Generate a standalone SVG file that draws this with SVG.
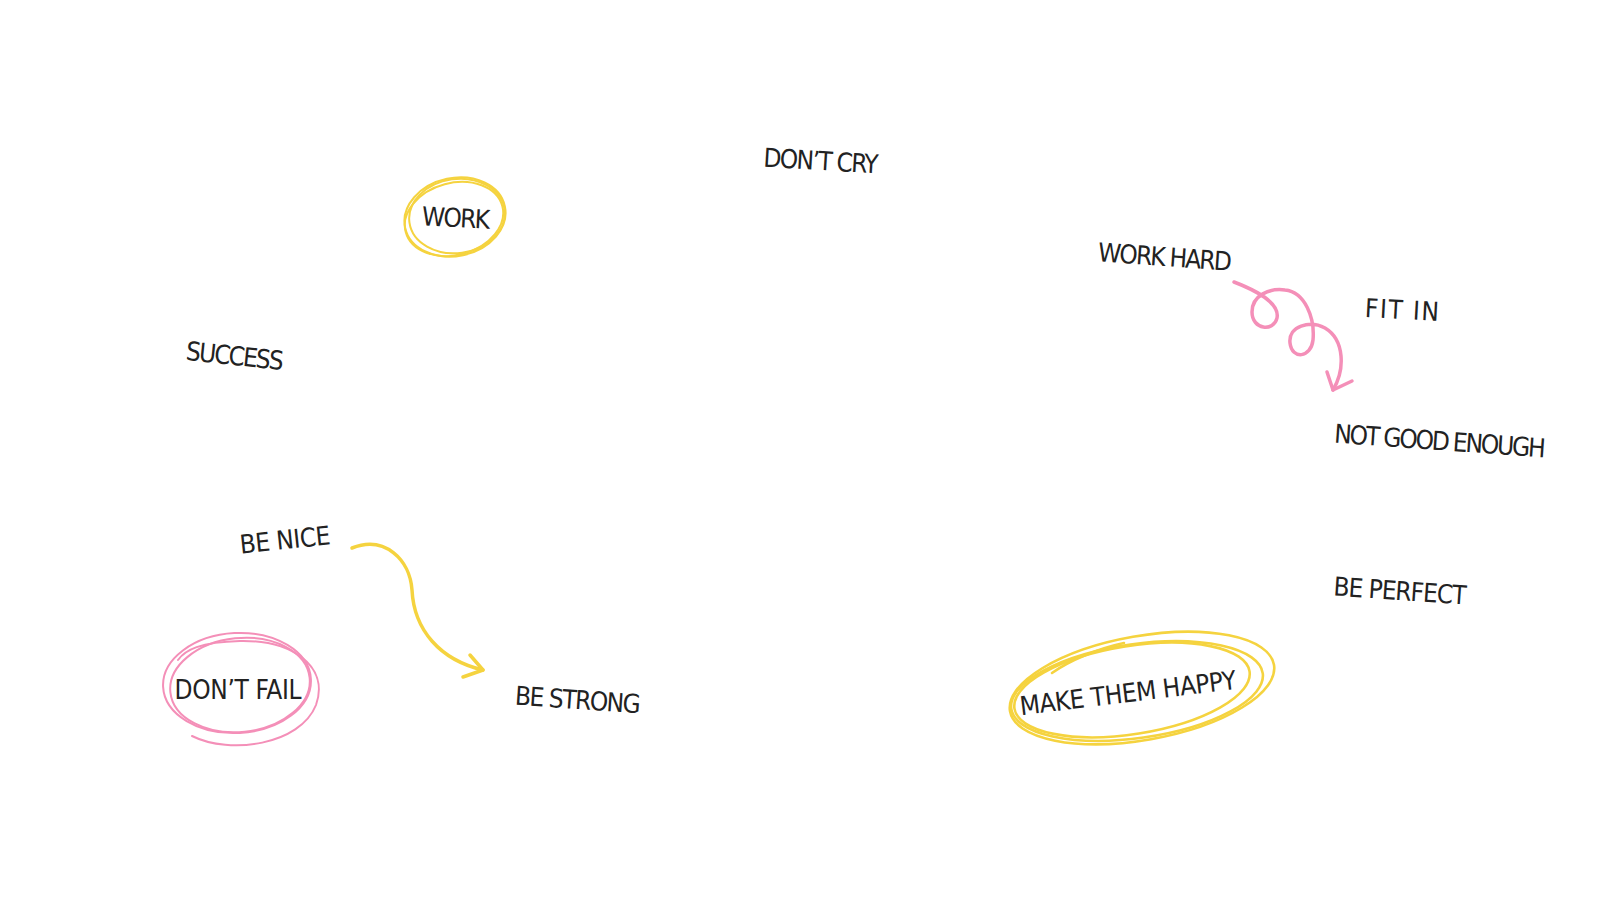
<svg xmlns="http://www.w3.org/2000/svg" width="1600" height="900" viewBox="0 0 1600 900">
<defs>
<style>
.t{font-family:"Liberation Sans Narrow","DejaVu Sans Condensed","Liberation Sans",sans-serif;font-size:26px;fill:#222;text-anchor:middle}
.y{fill:none;stroke:#F5D33F;stroke-width:2;stroke-linecap:round}
.yb{fill:none;stroke:#F5D33F;stroke-width:3.5;stroke-linecap:round;stroke-linejoin:round}
.ym{fill:none;stroke:#F5D33F;stroke-width:2.6;stroke-linecap:round}
.p{fill:none;stroke:#F48FB8;stroke-width:2;stroke-linecap:round}
.pb{fill:none;stroke:#F48FB8;stroke-width:3.5;stroke-linecap:round;stroke-linejoin:round}
</style>
</defs>
<rect width="1600" height="900" fill="#fff"/>
<g id="connectors">
<path class="yb" d="M352,548 C385,535 410,560 412,590 C414,630 440,660 483,670"/>
<path class="yb" d="M470,655 L483,670 L463,677"/>
<path class="pb" d="M1234,282 C1255,290 1280,303 1277,318 C1274,332 1252,330 1252,312 C1252,295 1270,288 1285,290 C1305,292 1315,318 1313,340 C1311,358 1292,360 1290,343 C1288,326 1310,320 1325,328 C1345,340 1345,370 1333,390"/>
<path class="pb" d="M1327,372 L1333,390 L1352,381"/>
</g>
<g id="n-dontcry"><text class="t" x="821" y="170" textLength="115" transform="rotate(3.5 821 161)">DON’T CRY</text></g>
<g id="n-work">
<ellipse class="y" cx="455" cy="217" rx="51" ry="39" transform="rotate(-12 455 217)"/>
<ellipse class="y" cx="457" cy="216" rx="48" ry="37" transform="rotate(-8 457 216)"/>
<ellipse class="y" cx="454" cy="219" rx="50" ry="36" transform="rotate(-15 454 219)"/>
<text class="t" x="456" y="227" textLength="68" transform="rotate(3 456 218)">WORK</text></g>
<g id="n-workhard"><text class="t" x="1165" y="266" textLength="134" transform="rotate(4 1165 257)">WORK HARD</text></g>
<g id="n-fitin"><text class="t" x="1402" y="319" textLength="74" transform="rotate(3 1402 310)">FIT IN</text></g>
<g id="n-success"><text class="t" x="235" y="365" textLength="98" transform="rotate(6 235 356)">SUCCESS</text></g>
<g id="n-notgood"><text class="t" x="1440" y="450" textLength="212" transform="rotate(4 1440 441)">NOT GOOD ENOUGH</text></g>
<g id="n-benice"><text class="t" x="285" y="549" textLength="91" transform="rotate(-6 285 540)">BE NICE</text></g>
<g id="n-beperfect"><text class="t" x="1400" y="600" textLength="133" transform="rotate(4 1400 591)">BE PERFECT</text></g>
<g id="n-dontfail">
<ellipse class="p" cx="237" cy="683" rx="74" ry="50" transform="rotate(-3 237 683)"/>
<ellipse class="p" cx="240" cy="685" rx="70" ry="47" transform="rotate(-6 240 685)"/>
<path class="p" d="M192,736 C230,755 300,745 316,705 C330,665 290,640 240,641 C200,642 185,650 178,660"/>
<text class="t" x="238" y="699" textLength="127">DON’T FAIL</text></g>
<g id="n-bestrong"><text class="t" x="578" y="709" textLength="126" transform="rotate(4 578 700)">BE STRONG</text></g>
<g id="n-makehappy">
<ellipse class="ym" cx="1142" cy="688" rx="134" ry="52" transform="rotate(-10 1142 688)"/>
<ellipse class="ym" cx="1137" cy="691" rx="127" ry="47" transform="rotate(-8 1137 691)"/>
<ellipse class="ym" cx="1132" cy="690" rx="119" ry="44" transform="rotate(-9 1132 690)"/>
<path class="ym" d="M1052,673 C1070,660 1100,648 1124,643"/>
<text class="t" x="1128" y="702" textLength="218" transform="rotate(-7 1128 693)">MAKE THEM HAPPY</text></g>
</svg>
